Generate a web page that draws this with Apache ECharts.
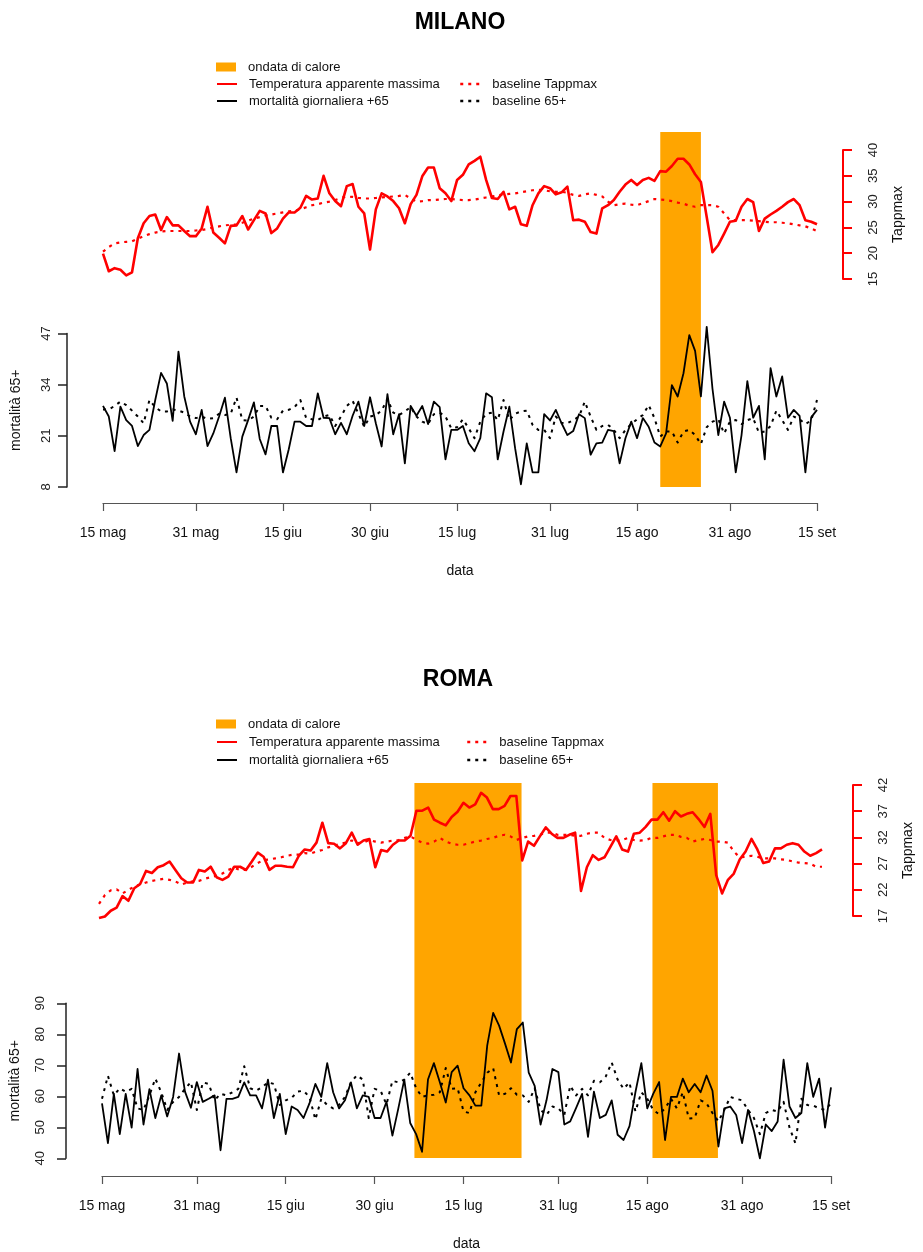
<!DOCTYPE html>
<html>
<head>
<meta charset="utf-8">
<script src="https://cdn.jsdelivr.net/npm/echarts@6/dist/echarts.min.js"></script>
<style>
  html, body { margin: 0; padding: 0; background: #ffffff; }
  #chart { width: 923px; height: 1252px; }
</style>
</head>
<body>
<div id="chart"></div>
<script>
// Giorni dal 15 maggio (giorno 0) al 15 settembre (giorno 123)
const tickDays   = [0, 16, 31, 46, 61, 77, 92, 108, 123];
const tickLabels = ['15 mag', '31 mag', '15 giu', '30 giu', '15 lug', '31 lug', '15 ago', '31 ago', '15 set'];

// ---------------- MILANO ----------------
const milanoTemp = [
  19.9, 16.5, 17.1, 16.8, 15.7, 16.3, 22.9, 25.8, 27.2, 27.5,
  24.5, 27.0, 25.4, 25.4, 24.3, 23.3, 23.3, 24.8, 29.0, 24.0,
  23.0, 21.9, 25.3, 25.4, 27.2, 24.6, 26.4, 28.2, 27.7, 23.9,
  24.8, 26.7, 27.9, 27.9, 28.8, 31.1, 30.4, 30.6, 35.0, 31.6,
  30.1, 29.1, 33.0, 33.4, 29.0, 27.7, 20.7, 28.5, 31.6, 31.0,
  30.1, 28.7, 25.8, 29.5, 31.3, 34.9, 36.6, 36.6, 32.6, 31.6,
  30.1, 34.2, 35.2, 37.2, 37.9, 38.7, 34.2, 30.7, 30.5, 31.9,
  28.5, 29.0, 25.6, 25.3, 29.3, 31.6, 33.0, 32.6, 31.4, 31.8,
  32.9, 26.4, 26.5, 26.1, 24.1, 23.8, 28.7, 29.3, 30.3, 31.9,
  33.3, 34.2, 33.2, 34.2, 34.6, 34.0, 35.9, 35.8, 36.9, 38.3,
  38.3, 37.2, 35.3, 33.8, 27.0, 20.2, 21.6, 23.8, 26.1, 26.3,
  29.0, 30.5, 29.9, 24.3, 26.7, 27.5, 28.2, 29.0, 29.9, 30.5,
  29.3, 26.4, 26.1, 25.6
];
const milanoTempBase = [
  20.3, 21.2, 21.9, 22.1, 22.2, 22.3, 22.8, 23.3, 23.7, 24.0,
  24.2, 24.3, 24.3, 24.3, 24.3, 24.3, 24.4, 24.5, 24.7, 25.0,
  25.2, 25.4, 25.5, 25.6, 25.9, 26.3, 26.7, 27.0, 27.3, 27.5,
  27.7, 27.9, 28.1, 28.2, 28.5, 28.9, 29.3, 29.5, 29.8, 30.0,
  30.3, 30.7, 31.0, 30.9, 30.7, 30.6, 30.6, 30.7, 30.8, 30.9,
  31.0, 31.1, 31.3, 30.6, 30.0, 30.1, 30.3, 30.3, 30.4, 30.5,
  30.5, 30.4, 30.3, 30.3, 30.4, 30.6, 30.8, 31.0, 31.2, 31.4,
  31.5, 31.6, 31.8, 32.0, 32.2, 32.3, 32.2, 32.0, 31.9, 31.9,
  31.7, 31.3, 31.1, 31.4, 31.6, 31.3, 31.0, 30.0, 29.3, 29.5,
  29.6, 29.4, 29.3, 29.7, 30.1, 30.5, 30.4, 30.3, 30.1, 29.8,
  29.6, 29.2, 29.0, 29.3, 29.3, 29.3, 29.0, 27.7, 26.4, 26.4,
  26.4, 26.4, 26.3, 26.2, 26.1, 26.0, 26.0, 25.9, 25.8, 25.6,
  25.4, 25.2, 24.8, 24.3
];
const milanoMort = [
  28.6, 25.9, 17.1, 28.4, 25.0, 23.5, 18.4, 21.2, 22.5, 30.1,
  37.0, 34.3, 24.8, 42.4, 31.0, 24.6, 21.4, 27.6, 18.4, 21.6,
  25.9, 30.7, 20.4, 11.7, 20.8, 25.0, 29.5, 20.2, 16.3, 23.5,
  23.5, 11.7, 17.6, 24.6, 24.6, 23.5, 23.5, 31.8, 25.6, 25.5,
  21.4, 24.3, 21.4, 26.1, 29.7, 23.5, 30.8, 24.2, 18.3, 31.6,
  21.4, 26.5, 14.0, 28.6, 26.1, 28.6, 24.0, 29.7, 28.3, 15.0,
  22.5, 22.5, 23.5, 19.1, 17.1, 20.4, 31.8, 30.8, 15.0, 22.1,
  28.4, 17.8, 8.7, 19.1, 11.7, 11.7, 26.5, 24.9, 27.6, 24.2,
  21.2, 22.2, 26.5, 25.5, 16.2, 19.1, 19.3, 22.5, 22.2, 14.0,
  20.4, 24.6, 20.4, 25.5, 23.3, 19.3, 18.3, 21.6, 33.9, 31.0,
  36.9, 46.6, 42.6, 31.0, 48.7, 32.9, 21.2, 29.7, 25.6, 11.7,
  21.2, 34.9, 25.6, 28.6, 15.0, 38.2, 31.0, 36.1, 25.6, 27.6,
  26.1, 11.7, 25.7, 27.6
];
const milanoMortBase = [
  27.7, 27.7, 28.6, 29.7, 28.8, 27.4, 25.9, 24.2, 30.1, 28.3,
  27.2, 27.2, 27.7, 27.4, 26.9, 25.9, 25.5, 25.9, 25.3, 25.5,
  26.6, 26.3, 26.6, 30.7, 25.0, 24.9, 25.9, 28.6, 28.6, 25.6,
  25.2, 27.4, 27.6, 28.3, 30.1, 25.5, 25.2, 25.0, 25.9, 26.3,
  23.5, 25.9, 28.6, 29.9, 26.6, 23.3, 25.9, 26.3, 27.4, 30.4,
  26.9, 26.3, 27.2, 28.3, 25.9, 24.6, 24.0, 26.5, 26.9, 25.9,
  22.9, 23.2, 25.2, 22.9, 20.4, 24.6, 26.6, 26.9, 25.0, 30.1,
  25.0, 26.6, 27.2, 27.4, 23.8, 22.5, 22.5, 20.4, 25.9, 24.3,
  24.2, 25.0, 25.9, 29.7, 25.9, 22.5, 23.5, 23.8, 22.5, 20.4,
  22.5, 24.0, 25.2, 26.3, 28.8, 25.5, 20.8, 22.1, 22.1, 19.3,
  22.1, 22.5, 21.2, 18.9, 23.2, 24.6, 25.2, 21.6, 24.6, 25.0,
  24.0, 25.0, 25.5, 21.8, 22.1, 23.5, 27.4, 25.0, 22.5, 25.9,
  25.2, 24.0, 24.9, 30.1
];
const milanoWaves = [[96, 103]];
const milanoTempTicks = [15, 20, 25, 30, 35, 40];
const milanoMortTicks = [8, 21, 34, 47];

// ---------------- ROMA ----------------
const romaTemp = [
  16.6, 16.9, 18.0, 18.6, 20.8, 19.9, 22.3, 23.1, 25.6, 25.2,
  26.3, 26.7, 27.4, 25.8, 24.2, 23.4, 23.4, 25.8, 25.5, 26.4,
  24.4, 23.9, 24.5, 26.4, 26.4, 25.8, 27.4, 29.1, 28.3, 25.8,
  26.6, 26.6, 26.4, 26.3, 28.5, 29.7, 29.5, 31.0, 34.8, 30.9,
  30.8, 29.9, 30.9, 32.9, 30.6, 31.4, 31.7, 26.3, 29.6, 29.3,
  30.6, 31.4, 31.4, 32.3, 37.1, 37.1, 37.7, 35.4, 34.8, 34.3,
  35.9, 36.9, 38.6, 37.7, 38.3, 40.5, 39.6, 37.4, 37.4, 38.0,
  39.9, 39.9, 27.6, 31.2, 30.4, 32.2, 33.9, 32.7, 31.9, 31.9,
  32.5, 32.9, 21.8, 26.3, 28.6, 27.7, 28.2, 30.2, 32.2, 29.7,
  29.3, 32.7, 32.9, 34.0, 35.4, 35.4, 36.8, 35.2, 37.0, 36.0,
  36.5, 36.8, 35.5, 34.0, 36.5, 24.8, 21.3, 23.9, 25.1, 27.8,
  29.3, 31.7, 29.7, 27.1, 27.4, 29.9, 29.9, 30.6, 30.9, 30.6,
  29.3, 28.5, 29.0, 29.7
];
const romaTempBase = [
  19.3, 21.0, 21.9, 22.1, 21.3, 22.0, 22.6, 23.0, 23.4, 23.7,
  23.9, 24.1, 23.9, 23.6, 23.0, 23.4, 23.6, 23.7, 24.1, 24.4,
  24.7, 25.1, 25.8, 26.2, 25.8, 25.8, 26.4, 27.1, 27.7, 27.8,
  28.0, 28.2, 28.5, 28.7, 28.7, 29.0, 28.9, 29.3, 29.6, 30.1,
  30.4, 30.8, 31.0, 31.4, 30.9, 31.0, 31.5, 31.2, 31.0, 31.2,
  31.4, 31.5, 31.9, 32.2, 31.5, 31.0, 30.8, 31.2, 31.9, 31.2,
  30.8, 30.6, 30.6, 30.9, 31.2, 31.4, 31.7, 31.9, 32.3, 32.5,
  32.2, 31.5, 31.9, 32.2, 32.3, 32.5, 32.9, 32.9, 32.5, 32.5,
  32.5, 32.3, 32.3, 32.7, 32.9, 32.9, 31.9, 31.5, 31.4, 31.5,
  31.9, 31.5, 31.4, 31.5, 31.9, 31.9, 32.2, 32.5, 32.5, 32.1,
  31.9, 31.2, 31.5, 31.7, 31.5, 31.2, 31.2, 31.0, 29.3, 28.2,
  28.3, 28.5, 28.3, 28.0, 28.0, 28.0, 27.8, 27.7, 27.4, 27.2,
  27.1, 27.0, 26.4, 26.4
];
const romaMort = [
  57.7, 44.9, 60.8, 47.8, 60.8, 49.9, 68.8, 50.9, 62.3, 53.0,
  60.3, 53.5, 59.8, 73.8, 61.5, 56.3, 64.6, 58.2, 59.2, 60.3,
  42.6, 59.2, 59.2, 59.8, 64.5, 60.3, 60.3, 56.1, 65.4, 53.0,
  60.8, 47.8, 56.7, 55.6, 53.0, 57.7, 64.0, 59.8, 70.7, 61.3,
  56.1, 58.7, 64.5, 56.1, 60.3, 59.8, 53.0, 53.0, 58.2, 47.3,
  56.1, 65.4, 51.4, 47.8, 42.1, 65.4, 70.7, 64.5, 58.0, 67.8,
  69.9, 62.6, 60.3, 57.0, 57.0, 76.4, 86.9, 82.8, 77.0, 70.9,
  81.7, 83.8, 67.6, 63.4, 50.9, 58.7, 68.8, 67.8, 50.9, 51.9,
  56.3, 60.8, 46.9, 61.5, 53.0, 54.0, 58.7, 47.6, 45.9, 50.4,
  61.3, 70.7, 56.1, 60.8, 64.6, 45.9, 59.8, 59.8, 65.7, 61.3,
  64.0, 61.3, 66.7, 61.8, 43.8, 56.1, 56.7, 54.0, 44.9, 55.6,
  48.8, 40.0, 50.9, 48.8, 51.9, 71.8, 56.7, 53.0, 54.6, 70.7,
  59.8, 65.7, 49.9, 62.9
];
const romaMortBase = [
  59.2, 66.6, 60.3, 62.6, 61.5, 62.4, 56.1, 55.6, 60.3, 65.7,
  61.3, 55.6, 58.2, 59.8, 62.4, 64.6, 55.6, 64.5, 64.0, 58.7,
  60.8, 60.3, 61.3, 62.4, 69.7, 62.6, 61.8, 62.9, 64.5, 64.0,
  57.2, 58.7, 59.5, 61.5, 61.8, 59.8, 52.5, 59.2, 57.2, 56.1,
  57.2, 59.8, 64.5, 66.8, 65.4, 53.0, 62.4, 61.8, 57.4, 65.0,
  64.5, 65.4, 67.6, 62.6, 59.8, 60.3, 60.5, 61.3, 69.1, 62.4,
  62.6, 55.1, 54.6, 61.3, 64.5, 67.6, 69.1, 60.3, 60.8, 62.6,
  60.5, 60.3, 58.2, 62.6, 55.6, 54.0, 56.7, 56.1, 54.0, 63.4,
  60.3, 62.4, 60.3, 65.0, 64.5, 66.4, 70.9, 65.4, 62.4, 64.5,
  55.1, 61.3, 59.2, 55.6, 54.2, 56.1, 59.2, 56.1, 61.3, 52.8,
  53.0, 58.7, 57.7, 54.6, 51.9, 55.6, 59.8, 59.2, 58.7, 55.6,
  53.0, 47.8, 54.6, 55.6, 55.1, 58.2, 49.9, 44.8, 59.2, 57.2,
  57.0, 56.1, 55.6, 57.7
];
const romaWaves = [[53, 71], [93, 104]];
const romaTempTicks = [17, 22, 27, 32, 37, 42];
const romaMortTicks = [40, 50, 60, 70, 80, 90];

// Nomi delle serie (legenda)
const NAME_WAVE = 'ondata di calore';
const NAME_TEMP = 'Temperatura apparente massima';
const NAME_TEMP_BASE = 'baseline Tappmax';
const NAME_MORT = 'mortalità giornaliera +65';
const NAME_MORT_BASE = 'baseline 65+';

const FONT = 'Liberation Sans';
const ORANGE = '#FFA500';
const RED = '#FF0000';
const BLACK = '#000000';
const DOT = [3, 5];

// Geometria dei due pannelli (pixel)
const panels = [
  {
    title: 'MILANO', titleX: 455, titleTop: 6,
    x0: 103, x1: 817,
    bandTop: 132, bandBottom: 487,
    tempTop: 150, tempBottom: 279, tempAxisX: 843,
    mortTop: 333.5, mortBottom: 487, mortAxisX: 67, mortLabelMargin: 14, xAxisY: 503,
    legendTop: 60, legendGap: 17, legendCol2: 459,
    temp: milanoTemp, tempBase: milanoTempBase, mort: milanoMort, mortBase: milanoMortBase,
    waves: milanoWaves, tempTicks: milanoTempTicks, mortTicks: milanoMortTicks
  },
  {
    title: 'ROMA', titleX: 453, titleTop: 663,
    x0: 99, x1: 831,
    bandTop: 783, bandBottom: 1158,
    tempTop: 785, tempBottom: 916, tempAxisX: 862,
    mortTop: 1003.3, mortBottom: 1163.3, mortAxisX: 63, mortLabelMargin: 19, xAxisY: 1181,
    legendTop: 717, legendGap: 18, legendCol2: 466,
    temp: romaTemp, tempBase: romaTempBase, mort: romaMort, mortBase: romaMortBase,
    waves: romaWaves, tempTicks: romaTempTicks, mortTicks: romaMortTicks
  }
];

const toPairs = arr => arr.map((v, i) => [i, v]);
const dayLabel = v => {
  const k = tickDays.indexOf(Math.round(v));
  return k >= 0 ? tickLabels[k] : '';
};

const option = {
  animation: false,
  backgroundColor: '#ffffff',
  textStyle: { fontFamily: FONT },
  title: [], legend: [], grid: [], xAxis: [], yAxis: [], series: []
};

panels.forEach(p => {
  const g = option.grid.length;
  const width = p.x1 - p.x0;

  option.title.push({
    text: p.title, left: p.titleX, top: p.titleTop, textAlign: 'center',
    textStyle: { fontFamily: FONT, fontSize: 23, fontWeight: 'bold', color: '#000' }
  });

  // griglia 0: fasce delle ondate di calore (attraversano entrambi i grafici)
  option.grid.push({ left: p.x0, width: width, top: p.bandTop, height: p.bandBottom - p.bandTop });
  // griglia 1: temperatura apparente
  option.grid.push({ left: p.x0, width: width, top: p.tempTop, height: p.tempBottom - p.tempTop });
  // griglia 2: mortalità
  option.grid.push({ left: p.x0, width: width, top: p.mortTop, height: p.mortBottom - p.mortTop });

  const hiddenX = idx => ({ type: 'value', gridIndex: idx, min: 0, max: 123, show: false });
  option.xAxis.push(hiddenX(g), hiddenX(g + 1));
  option.xAxis.push({
    type: 'value', gridIndex: g + 2, min: 0, max: 123,
    offset: p.xAxisY - p.mortBottom,
    name: 'data', nameLocation: 'middle', nameGap: 61,
    nameTextStyle: { fontFamily: FONT, fontSize: 14, color: '#111' },
    axisLine: { show: true, onZero: false, lineStyle: { color: '#555', width: 1.2 } },
    axisTick: { show: true, length: 8, customValues: tickDays, lineStyle: { color: '#555', width: 1.2 } },
    axisLabel: {
      customValues: tickDays, formatter: dayLabel, margin: 23,
      fontFamily: FONT, fontSize: 14, color: '#111'
    },
    splitLine: { show: false }
  });

  option.yAxis.push({ type: 'value', gridIndex: g, min: 0, max: 1, show: false });
  option.yAxis.push({
    type: 'value', gridIndex: g + 1, position: 'right',
    min: p.tempTicks[0], max: p.tempTicks[p.tempTicks.length - 1],
    offset: p.tempAxisX - p.x1,
    name: 'Tappmax', nameLocation: 'middle', nameGap: 48, nameRotate: 90,
    nameTextStyle: { fontFamily: FONT, fontSize: 14, color: '#111' },
    axisLine: { show: true, onZero: false, lineStyle: { color: RED, width: 2 } },
    axisTick: { show: true, length: 9, customValues: p.tempTicks, lineStyle: { color: RED, width: 2 } },
    axisLabel: {
      customValues: p.tempTicks, rotate: 90, margin: 24,
      fontFamily: FONT, fontSize: 13, color: '#222'
    },
    splitLine: { show: false }
  });
  option.yAxis.push({
    type: 'value', gridIndex: g + 2, position: 'left',
    min: p.mortTicks[0], max: p.mortTicks[p.mortTicks.length - 1],
    offset: p.x0 - p.mortAxisX,
    name: 'mortalità 65+', nameLocation: 'middle', nameGap: 44, nameRotate: 90,
    nameTextStyle: { fontFamily: FONT, fontSize: 14, color: '#111' },
    axisLine: { show: true, onZero: false, lineStyle: { color: '#222', width: 1.5 } },
    axisTick: { show: true, length: 9, customValues: p.mortTicks, lineStyle: { color: '#222', width: 1.5 } },
    axisLabel: {
      customValues: p.mortTicks, rotate: 90, margin: p.mortLabelMargin,
      fontFamily: FONT, fontSize: 13, color: '#222'
    },
    splitLine: { show: false }
  });

  // fasce arancioni delle ondate di calore
  option.series.push({
    name: NAME_WAVE, type: 'line', xAxisIndex: g, yAxisIndex: g,
    data: [], symbol: 'none', color: ORANGE, z: 1,
    markArea: {
      silent: true,
      itemStyle: { color: ORANGE, opacity: 1, borderWidth: 0 },
      data: p.waves.map(([a, b]) => [{ xAxis: a }, { xAxis: b }])
    }
  });

  const line = (name, idx, data, color, width, type) => ({
    name, type: 'line', xAxisIndex: idx, yAxisIndex: idx,
    data: toPairs(data), symbol: 'none', showSymbol: false, clip: false, z: 5,
    color: color,
    lineStyle: { color: color, width: width, type: type, cap: 'butt', join: 'round' },
    emphasis: { disabled: true }
  });

  option.series.push(line(NAME_TEMP_BASE, g + 1, p.tempBase, RED, 2.2, DOT));
  option.series.push(line(NAME_TEMP, g + 1, p.temp, RED, 2.6, 'solid'));
  option.series.push(line(NAME_MORT_BASE, g + 2, p.mortBase, BLACK, 2, DOT));
  option.series.push(line(NAME_MORT, g + 2, p.mort, BLACK, 1.8, 'solid'));

  // legenda: una voce per componente, disposte su due colonne
  const leg = (name, left, top, icon, lineStyle) => ({
    data: [icon ? { name, icon } : name],
    left, top, padding: 0, selectedMode: false,
    itemWidth: 20, itemHeight: icon ? 9 : 14,
    itemStyle: icon ? {} : { color: 'rgba(0,0,0,0)', borderWidth: 0, opacity: 0 },
    lineStyle: lineStyle || {},
    textStyle: { fontFamily: FONT, fontSize: 13, color: '#111', padding: [0, 0, 0, 7], lineHeight: 14 }
  });
  const r1 = p.legendTop, r2 = r1 + p.legendGap, r3 = r2 + p.legendGap;
  option.legend.push(leg(NAME_WAVE, 216, r1, 'rect'));
  option.legend.push(leg(NAME_TEMP, 216, r2, null, { color: RED, width: 2, type: 'solid' }));
  option.legend.push(leg(NAME_TEMP_BASE, p.legendCol2, r2, null, { color: RED, width: 2.5, type: [3, 5] }));
  option.legend.push(leg(NAME_MORT, 216, r3, null, { color: BLACK, width: 2, type: 'solid' }));
  option.legend.push(leg(NAME_MORT_BASE, p.legendCol2, r3, null, { color: BLACK, width: 2.5, type: [3, 5] }));
});

const chart = echarts.init(document.getElementById('chart'), null, { renderer: 'canvas' });
chart.setOption(option);
</script>
</body>
</html>
